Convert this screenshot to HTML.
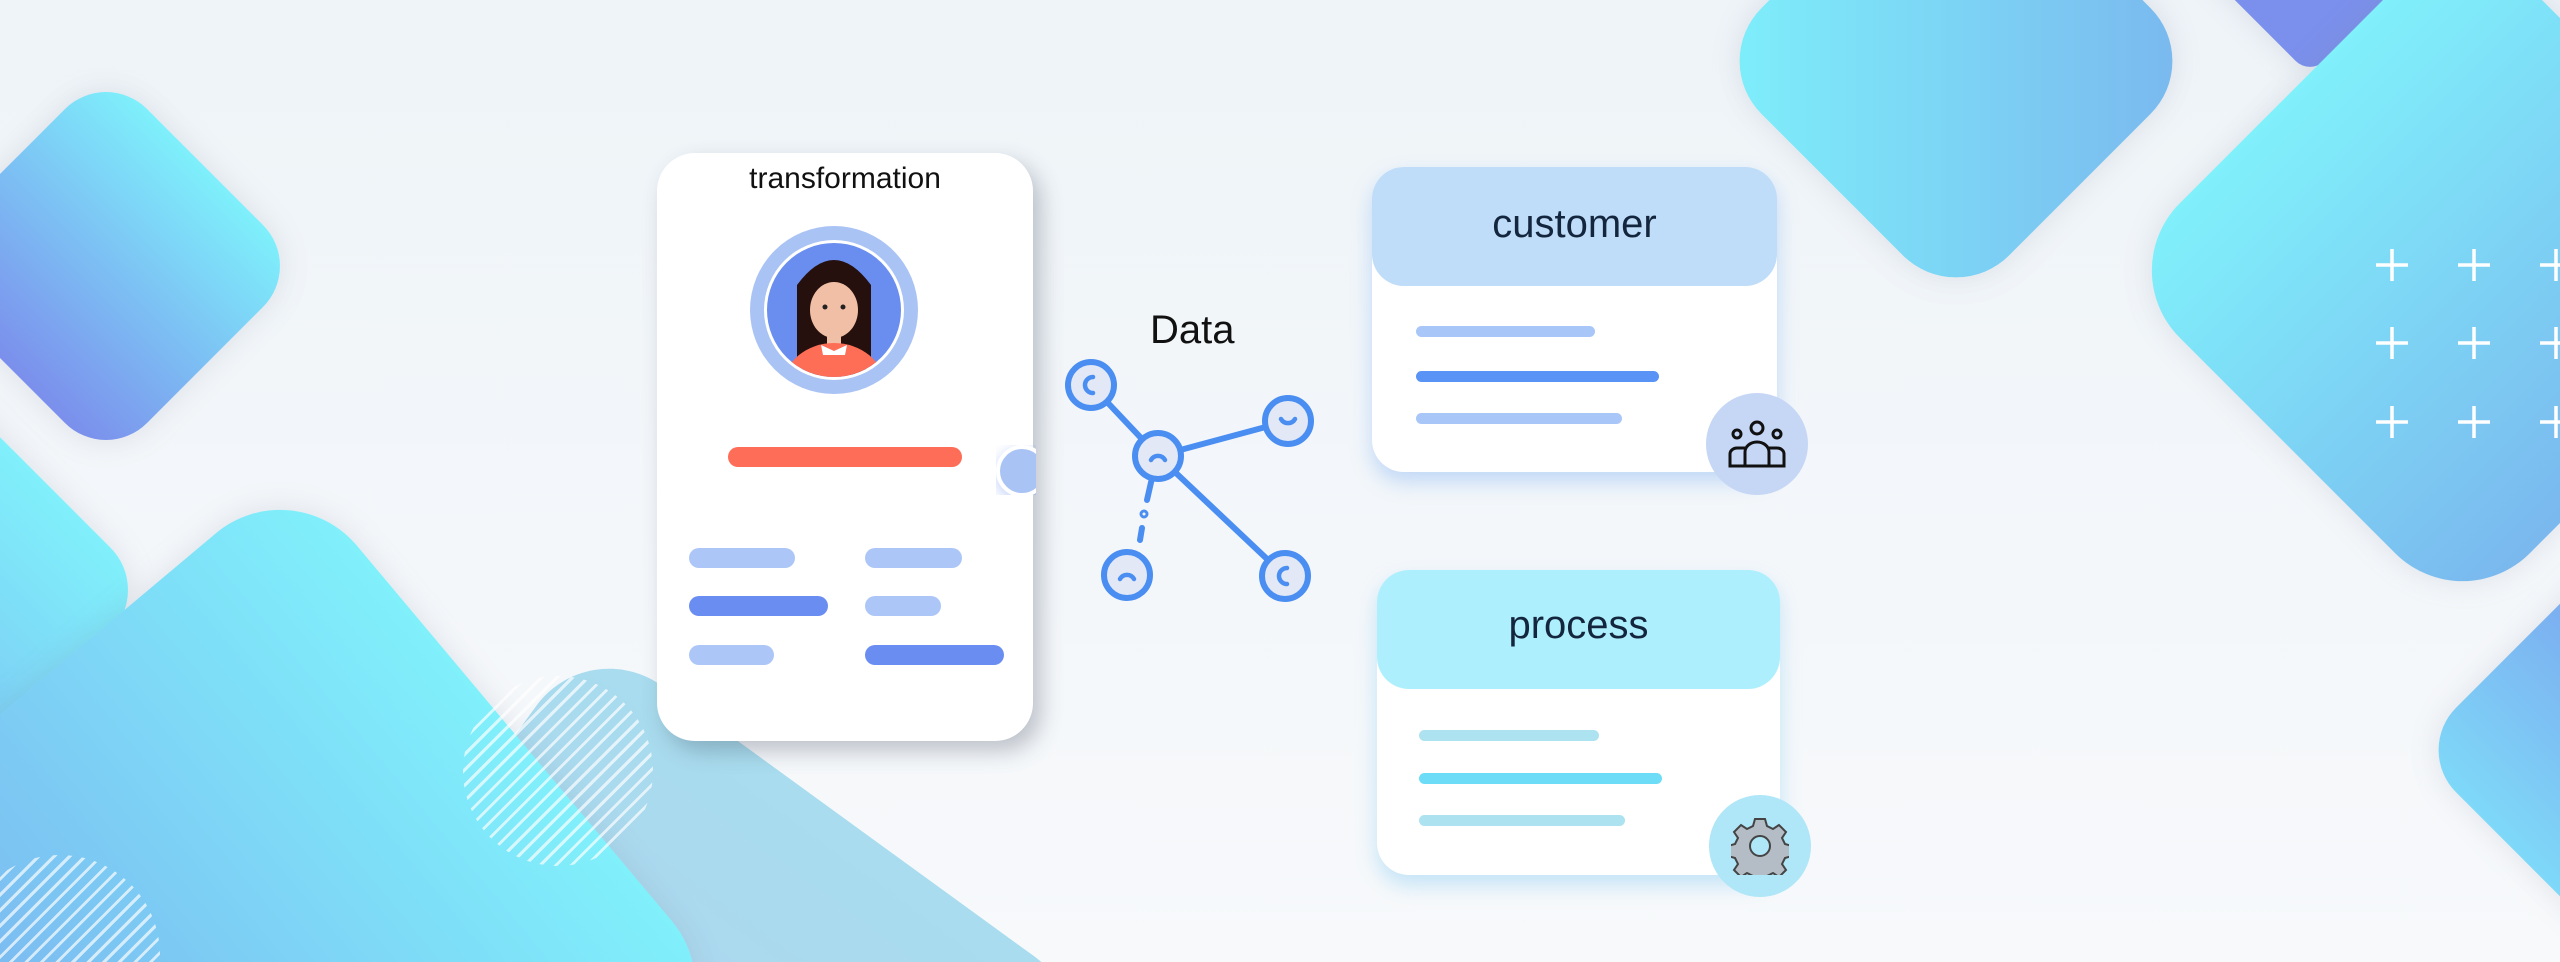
<!DOCTYPE html>
<html><head><meta charset="utf-8"><style>
html,body{margin:0;padding:0;width:2560px;height:962px;overflow:hidden}
#w{width:2560px;height:962px;overflow:hidden;position:relative;background:linear-gradient(180deg,#eef4f8 0%,#f4f7fa 60%,#f7f9fb 100%);font-family:"Liberation Sans",sans-serif}
.d{position:absolute;transform:rotate(45deg);box-shadow:0 0 30px rgba(120,130,150,.18)}
.abs{position:absolute}
.bar{position:absolute;border-radius:10px}
.hatch{position:absolute;border-radius:50%;background:repeating-linear-gradient(135deg,rgba(255,255,255,.85) 0 3px,transparent 3px 11px)}
</style></head><body><div id="w">
<!-- background diamonds -->
<div class="d" style="left:-330px;top:390px;width:400px;height:400px;border-radius:60px;background:linear-gradient(to top,#7ab0ee,#80f0fb)"></div>
<div class="d" style="left:340px;top:760px;width:640px;height:640px;border-radius:90px;transform:rotate(36deg);background:linear-gradient(to top,#b3d0ee,#a8dcee);box-shadow:none"></div>
<div class="d" style="left:-95px;top:610px;width:690px;height:690px;border-radius:100px;transform:rotate(50deg);background:linear-gradient(to top,#7aaeee,#80f0fb)"></div>
<div class="d" style="left:-34px;top:126px;width:280px;height:280px;border-radius:58px;background:linear-gradient(to top,#7b8fec,#7ef0fb)"></div>
<div class="d" style="left:2225px;top:-130px;width:170px;height:170px;border-radius:20px;background:#7b90ec"></div>
<div class="d" style="left:1781px;top:-114px;width:350px;height:350px;border-radius:75px;background:linear-gradient(to top right,#7ef1fb,#7ab6ee)"></div>
<div class="d" style="left:2215px;top:23px;width:495px;height:495px;border-radius:95px;background:linear-gradient(90deg,#80f0fb,#7ab8ee)"></div>
<div class="d" style="left:2480px;top:590px;width:320px;height:320px;border-radius:60px;background:linear-gradient(to top,#7ed8f8,#7b98ec)"></div>
<div class="hatch" style="left:463px;top:676px;width:190px;height:190px;opacity:.8"></div>
<div class="hatch" style="left:-40px;top:855px;width:200px;height:200px;opacity:.8"></div>
<!-- plus signs -->
<svg class="abs" style="left:0;top:0" width="2560" height="962">
<g stroke="#fff" stroke-width="3.5">
<path d="M2376 265h32M2392 249v32M2458 265h32M2474 249v32M2540 265h32M2556 249v32"/>
<path d="M2376 343h32M2392 327v32M2458 343h32M2474 327v32M2540 343h32M2556 327v32"/>
<path d="M2376 422h32M2392 406v32M2458 422h32M2474 406v32M2540 422h32M2556 406v32"/>
</g></svg>
<!-- left card -->
<div class="abs" style="left:657px;top:153px;width:376px;height:588px;background:#fff;border-radius:38px;box-shadow:8px 10px 22px rgba(60,70,90,.3)"></div>
<div class="abs" style="left:657px;top:162px;width:376px;text-align:center;font-size:30px;color:#111">transformation</div>
<svg class="abs" style="left:749px;top:225px" width="170" height="170" viewBox="0 0 170 170">
<circle cx="85" cy="85" r="84" fill="#a9c3f5"/>
<circle cx="85" cy="85" r="70" fill="#fff"/>
<circle cx="85" cy="85" r="67" fill="#6a8ef0"/>
<clipPath id="c"><circle cx="85" cy="85" r="67"/></clipPath>
<g clip-path="url(#c)">
<path d="M50 150 q35 -70 70 0z" fill="#221010"/>
<path d="M48 60 q37 -50 74 0 v75 h-74z" fill="#25100e"/>
<ellipse cx="85" cy="85" rx="24" ry="28" fill="#f0bfa5"/>
<path d="M58 62 q27 -25 54 0 v-8 q-27 -22 -54 0z" fill="#25100e"/>
<rect x="78" y="108" width="14" height="14" fill="#f0bfa5"/>
<ellipse cx="85" cy="160" rx="50" ry="42" fill="#fe6d55"/>
<path d="M72 120 l13 6 l13 -6 l-2 10 h-22z" fill="#fff"/>
<circle cx="76" cy="82" r="2.5" fill="#222"/><circle cx="94" cy="82" r="2.5" fill="#222"/>
</g></svg>
<div class="bar" style="left:728px;top:447px;width:234px;height:20px;background:#fe6d57"></div>
<div class="bar" style="left:689px;top:548px;width:106px;height:20px;background:#adc6f8"></div>
<div class="bar" style="left:689px;top:596px;width:139px;height:20px;background:#6a8df2"></div>
<div class="bar" style="left:689px;top:645px;width:85px;height:20px;background:#adc6f8"></div>
<div class="bar" style="left:865px;top:548px;width:97px;height:20px;background:#adc6f8"></div>
<div class="bar" style="left:865px;top:596px;width:76px;height:20px;background:#adc6f8"></div>
<div class="bar" style="left:865px;top:645px;width:139px;height:20px;background:#6a8df2"></div>
<div class="abs" style="left:996px;top:445px;width:40px;height:50px;overflow:hidden"><div style="width:44px;height:44px;border-radius:50%;background:#a9c3f5;border:4px solid #fff;box-shadow:0 4px 14px rgba(100,140,240,.4)"></div></div>
<!-- Data network -->
<div class="abs" style="left:1150px;top:308px;font-size:40px;color:#111">Data</div>
<svg class="abs" style="left:1050px;top:350px" width="280" height="270" viewBox="1050 350 280 270">
<g stroke="#4a8ef2" stroke-width="6" stroke-linecap="round" fill="none">
<line x1="1091" y1="385" x2="1158" y2="456"/>
<line x1="1288" y1="421" x2="1158" y2="456"/>
<line x1="1285" y1="576" x2="1158" y2="456"/>
<line x1="1152" y1="478" x2="1147" y2="500"/>
<line x1="1142" y1="528" x2="1140" y2="540"/>
<circle cx="1144" cy="514" r="1.5"/>
</g>
<g fill="#e2e8f5" stroke="#4a8ef2" stroke-width="6">
<circle cx="1091" cy="385" r="23"/><circle cx="1288" cy="421" r="23"/><circle cx="1158" cy="456" r="23"/><circle cx="1127" cy="575" r="23"/><circle cx="1285" cy="576" r="23"/>
</g>
<g fill="none" stroke="#4a8ef2" stroke-width="4.5" stroke-linecap="round">
<path d="M1093 377 a8 8 0 0 0 0 16"/><path d="M1281 419 a8 8 0 0 0 14 0"/><path d="M1151 460 a8 8 0 0 1 14 0"/><path d="M1120 579 a8 8 0 0 1 14 0"/><path d="M1287 568 a8 8 0 0 0 0 16"/>
</g></svg>
<!-- customer card -->
<div class="abs" style="left:1372px;top:167px;width:405px;height:305px;background:#fff;border-radius:32px;box-shadow:0 10px 20px rgba(100,160,240,.35)"></div>
<div class="abs" style="left:1372px;top:167px;width:405px;height:119px;background:#bfdcf8;border-radius:32px;text-align:center;line-height:115px;font-size:40px;color:#14263e">customer</div>
<div class="bar" style="left:1416px;top:326px;width:179px;height:11px;background:#a8c6f8"></div>
<div class="bar" style="left:1416px;top:371px;width:243px;height:11px;background:#5a93f6"></div>
<div class="bar" style="left:1416px;top:413px;width:206px;height:11px;background:#a8c6f8"></div>
<div class="abs" style="left:1706px;top:393px;width:102px;height:102px;border-radius:50%;background:#c6d6f5"></div>
<svg class="abs" style="left:1727px;top:418px" width="60" height="52" viewBox="0 0 60 52" fill="none" stroke="#111" stroke-width="3">
<circle cx="30" cy="10" r="6"/><circle cx="10" cy="16" r="4"/><circle cx="50" cy="16" r="4"/>
<path d="M18 48v-14a12 10 0 0 1 24 0v14z"/><path d="M18 30h-8a7 6 0 0 0 -7 6v12h15"/><path d="M42 30h8a7 6 0 0 1 7 6v12h-15"/>
</svg>
<!-- process card -->
<div class="abs" style="left:1377px;top:570px;width:403px;height:305px;background:#fff;border-radius:32px;box-shadow:0 10px 20px rgba(100,190,240,.35)"></div>
<div class="abs" style="left:1377px;top:570px;width:403px;height:119px;background:#aeeffd;border-radius:32px;text-align:center;line-height:110px;font-size:40px;color:#14263e">process</div>
<div class="bar" style="left:1419px;top:730px;width:180px;height:11px;background:#ade2f0"></div>
<div class="bar" style="left:1419px;top:773px;width:243px;height:11px;background:#6ddcf7"></div>
<div class="bar" style="left:1419px;top:815px;width:206px;height:11px;background:#ade2f0"></div>
<div class="abs" style="left:1709px;top:795px;width:102px;height:102px;border-radius:50%;background:#afe6f8"></div>
<svg class="abs" style="left:1731px;top:817px" width="58" height="58" viewBox="-29 -29 58 58">
<g fill="#b4bcc6" stroke="#444" stroke-width="2">
<path d="M-5 -27h10l2 7 6 3 6-4 7 7-4 6 3 6 7 2v10l-7 2-3 6 4 6-7 7-6-4-6 3-2 7h-10l-2-7-6-3-6 4-7-7 4-6-3-6-7-2v-10l7-2 3-6-4-6 7-7 6 4 6-3z"/>
<circle r="10" fill="#afe6f8"/></g></svg>
</div></body></html>
